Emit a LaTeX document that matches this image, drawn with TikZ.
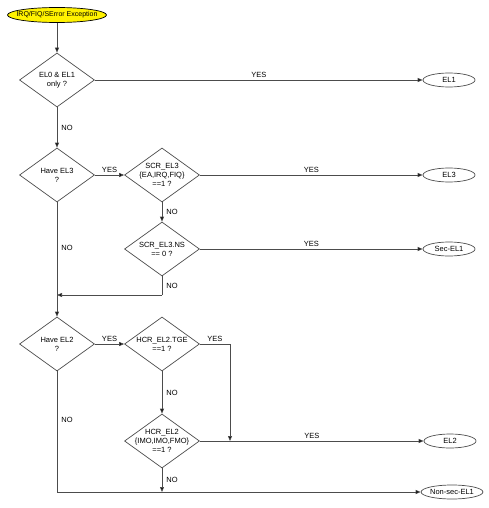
\documentclass[tikz,border=0pt]{standalone}
\usepackage{fontspec}
\setmainfont{Liberation Sans}
\usetikzlibrary{shapes.geometric,arrows.meta}

\tikzset{
  flow/.style={draw=black!70, line width=0.7pt, -{Triangle[length=5pt,width=4pt,fill=black]}},
  line/.style={draw=black!70, line width=0.7pt},
  decision/.style={diamond, draw=black!70, line width=0.7pt, inner sep=0pt,
    minimum width=75pt, minimum height=54pt, aspect=1.39},
  dtext/.style={align=center, font=\fontsize{7.5}{9}\selectfont, inner sep=0pt},
  terminal/.style={ellipse, draw=black!70, line width=0.7pt, inner sep=0pt,
    minimum width=52pt, minimum height=14pt, font=\fontsize{7.5}{9}\selectfont},
  lbl/.style={font=\fontsize{7.5}{9}\selectfont, inner sep=2pt}
}

\begin{document}
\begin{tikzpicture}[x=1pt,y=-1pt]
  \useasboundingbox (0,0) rectangle (489,508);

  % start
  \node[terminal, fill=yellow, draw=black, minimum width=99pt, minimum height=15pt,
    label={[dtext, font=\fontsize{7}{8.5}\selectfont]center:IRQ/FIQ/SError Exception}] (start) at (57,15) {};

  % decisions
  \node[decision, label={[dtext]center:EL0 \& EL1\\only ?}] (d1) at (57,80) {};
  \node[decision, label={[dtext]center:Have EL3\\?}] (d2) at (57,175) {};
  \node[decision, label={[dtext]center:SCR\_EL3\\\{EA,IRQ,FIQ\}\\==1 ?}] (d3) at (162,175) {};
  \node[decision, label={[dtext]center:SCR\_EL3.NS\\== 0 ?}] (d4) at (162,249) {};
  \node[decision, label={[dtext]center:Have EL2\\?}] (d5) at (57,344) {};
  \node[decision, label={[dtext]center:HCR\_EL2.TGE\\==1 ?}] (d6) at (162,344) {};
  \node[decision, label={[dtext]center:HCR\_EL2\\\{IMO,IMO,FMO\}\\==1 ?}] (d7) at (162,441) {};

  % results
  \node[terminal] (el1) at (449,80) {EL1};
  \node[terminal] (el3) at (449,175) {EL3};
  \node[terminal] (secel1) at (449,249) {Sec-EL1};
  \node[terminal] (el2) at (450,441) {EL2};
  \node[terminal, minimum width=54pt] (nonsec) at (452,492) {Non-sec-EL1};

  % junctions
  \coordinate (j1) at (57,295);
  \coordinate (j2) at (230,441);
  \coordinate (j3) at (162,492);
  \coordinate (c1) at (162,295);
  \coordinate (c2) at (230,344);
  \coordinate (c3) at (57,492);

  % connectors
  \draw[flow] (start) -- (d1);
  \draw[flow] (d1.east) -- node[lbl, above] {YES} (el1.west);
  \draw[flow] (d1.south) -- node[lbl, right, xshift=2pt] {NO} (d2.north);
  \draw[flow] (d2.east) -- node[lbl, above] {YES} (d3.west);
  \draw[flow] (d3.east) -- node[lbl, above] {YES} (el3.west);
  \draw[flow] (d3.south) -- node[lbl, right, xshift=2pt] {NO} (d4.north);
  \draw[flow] (d4.east) -- node[lbl, above] {YES} (secel1.west);
  \draw[line] (d4.south) -- node[lbl, right, xshift=2pt] {NO} (c1);
  \draw[flow] (c1) -- (j1);
  \draw[flow] (d2.south) -- node[lbl, right, xshift=2pt, pos=0.4] {NO} (d5.north);
  \draw[flow] (d5.east) -- node[lbl, above] {YES} (d6.west);
  \draw[line] (d6.east) -- node[lbl, above] {YES} (c2);
  \draw[flow] (c2) -- (j2);
  \draw[flow] (d6.south) -- node[lbl, right, xshift=2pt] {NO} (d7.north);
  \draw[flow] (d7.east) -- node[lbl, above] {YES} (el2.west);
  \draw[flow] (d7.south) -- node[lbl, right, xshift=2pt] {NO} (j3);
  \draw[line] (d5.south) -- node[lbl, right, xshift=2pt, pos=0.4] {NO} (c3);
  \draw[flow] (c3) -- (nonsec.west);
\end{tikzpicture}
\end{document}
